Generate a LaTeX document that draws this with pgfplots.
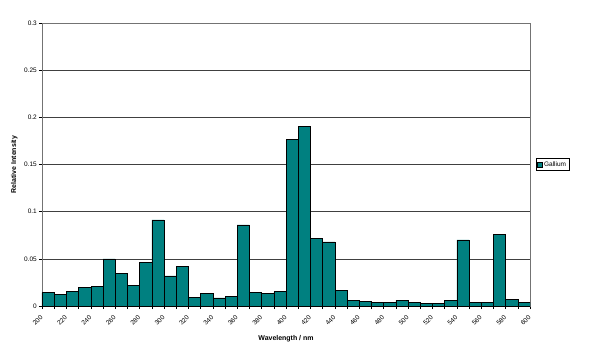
\documentclass[border=0pt]{standalone}
\usepackage{pgfplots}
\pgfplotsset{compat=1.18}
\usepackage{fontspec}
\setmainfont{Liberation Sans}
\definecolor{teal1}{HTML}{008080}
\begin{document}
\begin{tikzpicture}
\begin{axis}[
  scale only axis,
  width=488bp, height=283bp,
  xmin=200, xmax=600, ymin=0, ymax=0.3,
  xtick={200,220,...,600},
  minor xtick={210,230,...,590},
  ytick={0,0.05,0.1,0.15,0.2,0.25,0.3},
  yticklabels={0,0.05,0.1,0.15,0.2,0.25,0.3},
  ymajorgrids,
  major grid style={black!75, line width=0.6pt},
  axis line style={black!55, line width=0.6pt},
  tick style={black, line width=0.6pt},
  tick align=outside,
  major tick length=3bp, minor tick length=3bp,
  xtick pos=bottom, ytick pos=left,
  xticklabel shift=7bp,
  x tick label style={rotate=45, anchor=east, font=\fontsize{6.5}{7}\selectfont, inner sep=0.5pt},
  y tick label style={font=\fontsize{6.5}{7}\selectfont, inner sep=2pt},
  /pgf/number format/assume math mode=true,
  /pgf/number format/1000 sep={},
  xlabel={\textbf{Wavelength / nm}},
  ylabel={\textbf{Relative Intensity}},
  label style={font=\fontsize{7}{8}\selectfont},
  xlabel style={yshift=-5bp},
  ylabel style={yshift=1bp},
  legend style={at={(rel axis cs:1,0.5)}, anchor=west, xshift=6bp, font=\fontsize{6.5}{7}\selectfont, draw=black, line width=0.5pt, inner sep=1pt, row sep=0pt},
  legend image code/.code={\draw[#1, line width=0.4pt] (0cm,-0.08cm) rectangle (0.16cm,0.08cm);},
]
\addplot[ybar interval, fill=teal1, draw=black, line width=0.6pt] coordinates {
(200,0.0141) (210,0.0120) (220,0.0151) (230,0.0197) (240,0.0204)
(250,0.0500) (260,0.0345) (270,0.0215) (280,0.0458) (290,0.0912)
(300,0.0320) (310,0.0423) (320,0.0088) (330,0.0137) (340,0.0085)
(350,0.0099) (360,0.0859) (370,0.0141) (380,0.0130) (390,0.0151)
(400,0.1768) (410,0.1900) (420,0.0714) (430,0.0680) (440,0.0169)
(450,0.0056) (460,0.0046) (470,0.0039) (480,0.0039) (490,0.0060)
(500,0.0042) (510,0.0025) (520,0.0025) (530,0.0056) (540,0.0700)
(550,0.0039) (560,0.0039) (570,0.0760) (580,0.0067) (590,0.0035)
(600,0.0035)};
\addlegendentry{Gallium}
\coordinate (bl) at (rel axis cs:0,0);
\coordinate (tr) at (rel axis cs:1,1);
\end{axis}
\pgfresetboundingbox
\path ([shift={(-42bp,-55bp)}]bl) rectangle ([shift={(61bp,23bp)}]tr);
\end{tikzpicture}
\end{document}
